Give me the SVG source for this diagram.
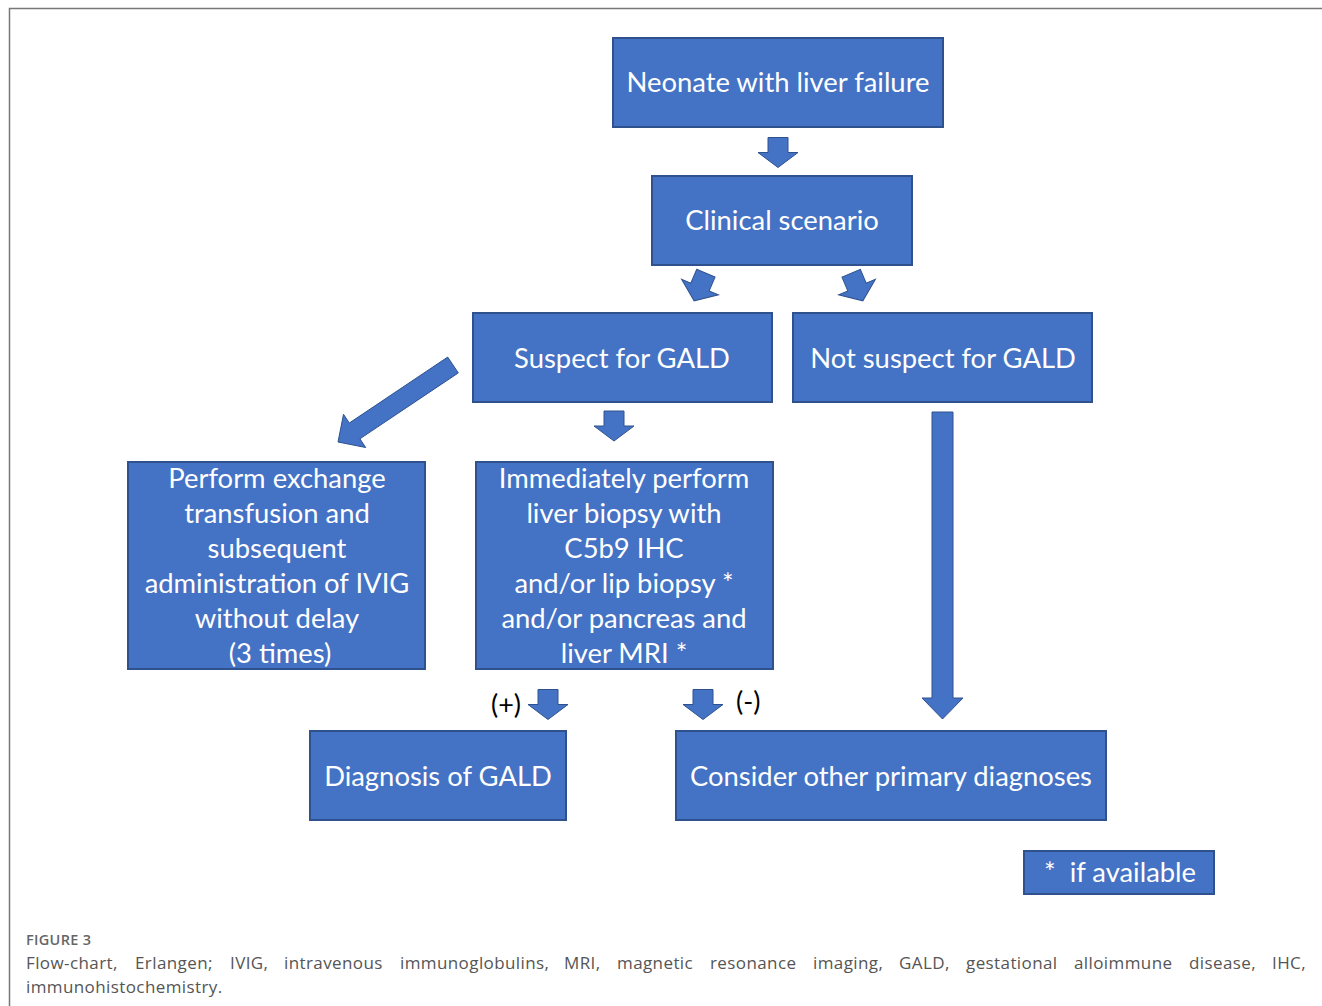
<svg xmlns="http://www.w3.org/2000/svg" width="1322" height="1006" viewBox="0 0 1322 1006">
<style>
.box{fill:#4472C4;stroke:#2F528F;stroke-width:2}
.t{font-family:Lato,"Open Sans","Liberation Sans",sans-serif;font-size:27.4px;fill:#fff;text-anchor:middle}
.arr{fill:#4472C4;stroke:#2F528F;stroke-width:1}
.lbl{font-family:Lato,"Liberation Sans",sans-serif;font-size:27px;fill:#000}
.cap{font-family:"Open Sans","Liberation Sans",sans-serif;font-size:17px;letter-spacing:0.4px;fill:#555}
</style>
<defs>
<polygon id="sa" points="-10,-15 10,-15 10,0 20,0 0,15 -20,0 -10,0"/>
</defs>
<rect width="1322" height="1006" fill="#fff"/>
<path d="M9.5,1006 V8.5 H1322" fill="none" stroke="#777" stroke-width="1.5"/>

<g id="n1"><rect class="box" x="613" y="38" width="330" height="89"/><text class="t" x="778" y="92">Neonate with liver failure</text></g>
<g id="n2"><rect class="box" x="652" y="176" width="260" height="89"/><text class="t" x="782" y="230">Clinical scenario</text></g>
<g id="n3"><rect class="box" x="473" y="313" width="299" height="89"/><text class="t" x="622" y="368">Suspect for GALD</text></g>
<g id="n4"><rect class="box" x="793" y="313" width="299" height="89"/><text class="t" x="943" y="368">Not suspect for GALD</text></g>
<g id="n5"><rect class="box" x="128" y="462" width="297" height="207"/>
<text class="t" x="277" y="488">Perform exchange</text>
<text class="t" x="277" y="523">transfusion and</text>
<text class="t" x="277" y="558">subsequent</text>
<text class="t" x="277" y="593">administration of IVIG</text>
<text class="t" x="277" y="628">without delay</text>
<text class="t" x="280" y="663">(3 times)</text></g>
<g id="n6"><rect class="box" x="476" y="462" width="297" height="207"/>
<text class="t" x="624" y="488">Immediately perform</text>
<text class="t" x="624" y="523">liver biopsy with</text>
<text class="t" x="624" y="558">C5b9 IHC</text>
<text class="t" x="624" y="593">and/or lip biopsy *</text>
<text class="t" x="624" y="628">and/or pancreas and</text>
<text class="t" x="624" y="663">liver MRI *</text></g>
<g id="n7"><rect class="box" x="310" y="731" width="256" height="89"/><text class="t" x="438" y="786">Diagnosis of GALD</text></g>
<g id="n8"><rect class="box" x="676" y="731" width="430" height="89"/><text class="t" x="891" y="786">Consider other primary diagnoses</text></g>
<g id="n9"><rect class="box" x="1024" y="851" width="190" height="43"/><text class="t" x="1120" y="882" xml:space="preserve">*  if available</text></g>

<g id="connectors">
<use href="#sa" class="arr" transform="translate(778,152.5)"/>
<use href="#sa" class="arr" transform="translate(700,287) rotate(23)"/>
<use href="#sa" class="arr" transform="translate(857,287) rotate(-23)"/>
<use href="#sa" class="arr" transform="translate(614,426)"/>
<use href="#sa" class="arr" transform="translate(548,704.5)"/>
<use href="#sa" class="arr" transform="translate(703,704.5)"/>
<polygon class="arr" points="447.7,357.1 458.3,372.9 359.9,438.8 365.7,447.5 338,442 343.5,414.3 349.3,423"/>
<polygon class="arr" points="932,412 953,412 953,698 963,698 942.5,719 922,698 932,698"/>
<text class="lbl" x="491" y="714">(+)</text>
<text class="lbl" x="736" y="711">(-)</text>
</g>

<text x="26" y="945" font-family="'Open Sans','Liberation Sans',sans-serif" font-size="14.5px" font-weight="600" letter-spacing="0.3" fill="#666">FIGURE 3</text>
<g class="cap">
<text x="26" y="969">Flow-chart,</text>
<text x="135" y="969">Erlangen;</text>
<text x="230" y="969">IVIG,</text>
<text x="284" y="969">intravenous</text>
<text x="400" y="969">immunoglobulins,</text>
<text x="564" y="969">MRI,</text>
<text x="617" y="969">magnetic</text>
<text x="710" y="969">resonance</text>
<text x="813" y="969">imaging,</text>
<text x="899" y="969">GALD,</text>
<text x="966" y="969">gestational</text>
<text x="1074" y="969">alloimmune</text>
<text x="1189" y="969">disease,</text>
<text x="1306" y="969" text-anchor="end">IHC,</text>
<text x="26" y="993">immunohistochemistry.</text>
</g>
</svg>
